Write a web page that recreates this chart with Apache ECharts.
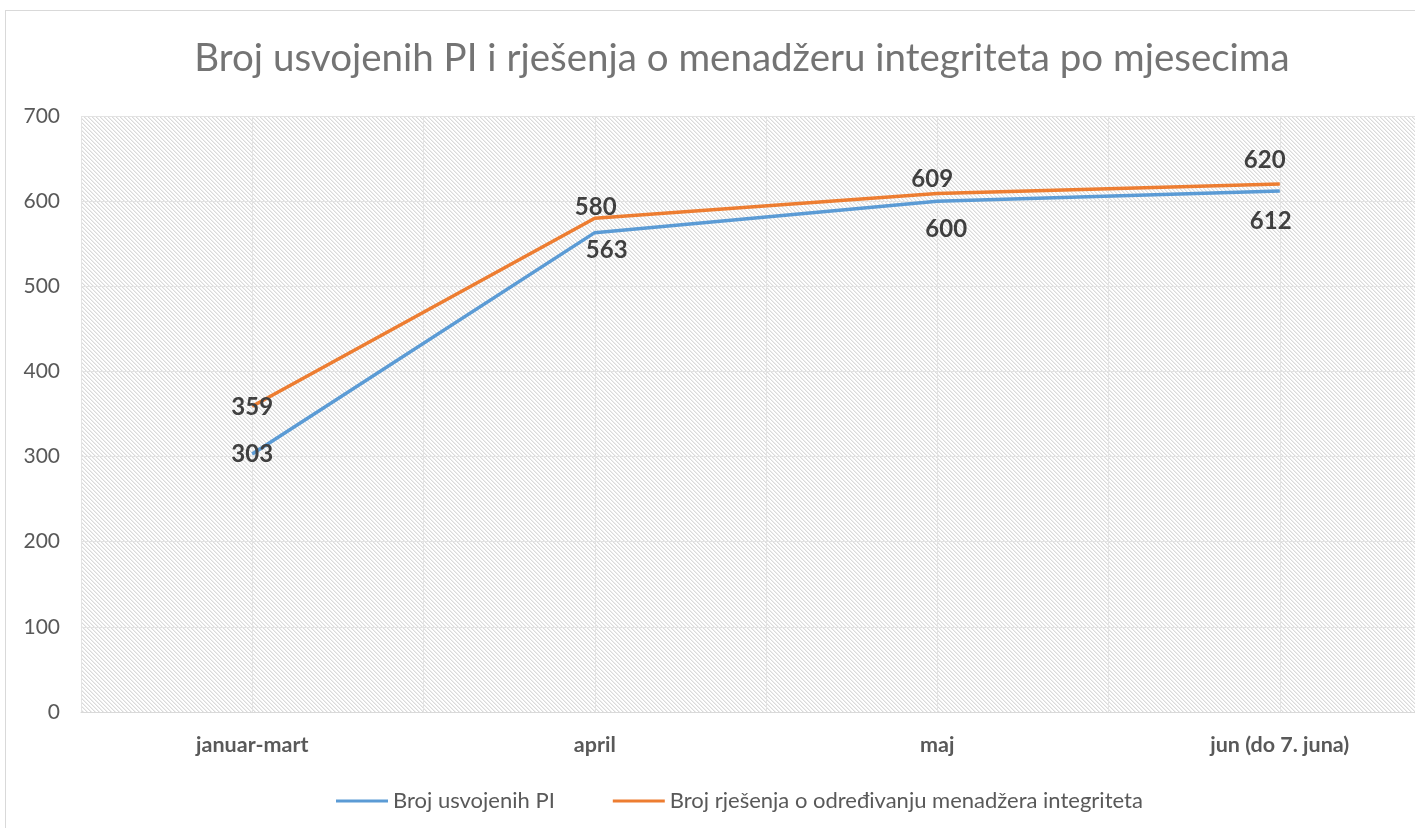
<!DOCTYPE html>
<html>
<head>
<meta charset="utf-8">
<title>Broj usvojenih PI</title>
<script src="https://cdn.jsdelivr.net/npm/echarts@6/dist/echarts.min.js"></script>
<style>
    html, body { margin: 0; padding: 0; overflow: hidden; background: #fff; }
    #main {
        position: absolute; left: 5px; top: 10px;
        width: 1476px; height: 830px;
        border: 1px solid #d9d9d9;
    }
</style>
</head>
<body>
<div id="main"></div>
<script>
/* podaci */
const categories = ['januar-mart', 'april', 'maj', 'jun (do 7. juna)'];
const seriesNames = ['Broj usvojenih PI', 'Broj rješenja o određivanju menadžera integriteta'];
const usvojeniPI = [303, 563, 600, 612];
const rjesenjaMI = [359, 580, 609, 620];
const yTicks = [0, 100, 200, 300, 400, 500, 600, 700];

// pomaci natpisa (kao u originalu, rucno namjesteni)
const offsetsPI = [[0, 0], [12, 18], [9, 28], [-9, 30]];
const offsetsMI = [[0, 1], [1, -11], [-5, -14], [-15, -24]];

// srafura za pozadinu grafikona
function hatch() {
    const c = document.createElement('canvas');
    c.width = 4; c.height = 4;
    const ctx = c.getContext('2d');
    const img = ctx.createImageData(4, 4);
    for (let y = 0; y < 4; y++) {
        for (let x = 0; x < 4; x++) {
            const k = ((x - y) % 4 + 4) % 4;
            const v = k === 0 ? 218 : (k === 1 ? 238 : 255);
            const i = (y * 4 + x) * 4;
            img.data[i] = v; img.data[i + 1] = v; img.data[i + 2] = v; img.data[i + 3] = 255;
        }
    }
    ctx.putImageData(img, 0, 0);
    return c;
}

function points(values, offsets) {
    let out = [];
    for (let i = 0; i < values.length; i++) {
        out.push({ value: values[i], label: { offset: offsets[i] } });
    }
    return out;
}

const font = 'Lato, "Open Sans", sans-serif';
const labelStyle = {
    show: true,
    position: 'inside',
    fontFamily: font,
    fontWeight: 'bold',
    fontSize: 24,
    color: '#404040'
};

const myChart = echarts.init(document.getElementById('main'));
const option = {
    animation: false,
    color: ['#5B9BD5', '#ED7D31'],
    title: {
        text: 'Broj usvojenih PI i rješenja o menadžeru integriteta po mjesecima',
        left: 731,
        textAlign: 'center',
        top: 23,
        textStyle: { fontFamily: font, fontWeight: 'normal', fontSize: 38.5, color: '#747474' }
    },
    legend: {
        left: 325,
        top: 774,
        itemWidth: 52,
        itemHeight: 3,
        itemGap: 58,
        icon: 'rect',
        textStyle: { fontFamily: font, fontSize: 22, color: '#595959' },
        data: seriesNames
    },
    grid: {
        left: 75,
        top: 105,
        width: 1370,
        height: 596,
        show: true,
        borderWidth: 0,
        backgroundColor: { image: hatch(), repeat: 'repeat' }
    },
    xAxis: [
        {
            type: 'category',
            data: categories,
            axisLine: { lineStyle: { color: '#d9d9d9', width: 1 } },
            axisTick: { show: false },
            splitLine: { show: true, lineStyle: { color: '#e3e3e3' } },
            axisLabel: {
                margin: 22,
                fontFamily: font,
                fontWeight: 'bold',
                fontSize: 21.5,
                color: '#595959'
            }
        },
        {
            // pomocna os: linije mreze kroz sredine kategorija
            type: 'category',
            position: 'bottom',
            data: categories.flatMap(c => [c + ' a', c + ' b']),
            axisLine: { show: false },
            axisTick: { show: false },
            axisLabel: { show: false },
            splitLine: { show: true, lineStyle: { color: '#e3e3e3' } }
        }
    ],
    yAxis: {
        type: 'value',
        min: yTicks[0],
        max: yTicks[yTicks.length - 1],
        interval: 100,
        axisLine: { show: false },
        axisTick: { show: false },
        splitLine: { lineStyle: { color: '#e3e3e3' } },
        axisLabel: { margin: 21, fontFamily: font, fontSize: 21, color: '#595959' }
    },
    series: [
        {
            name: seriesNames[0],
            type: 'line',
            data: points(usvojeniPI, offsetsPI),
            symbol: 'circle',
            symbolSize: 1,
            lineStyle: { width: 3.5 },
            label: labelStyle,
            z: 3
        },
        {
            name: seriesNames[1],
            type: 'line',
            data: points(rjesenjaMI, offsetsMI),
            symbol: 'circle',
            symbolSize: 1,
            lineStyle: { width: 3.5 },
            label: labelStyle,
            z: 3
        }
    ]
};
myChart.setOption(option);
</script>
</body>
</html>
